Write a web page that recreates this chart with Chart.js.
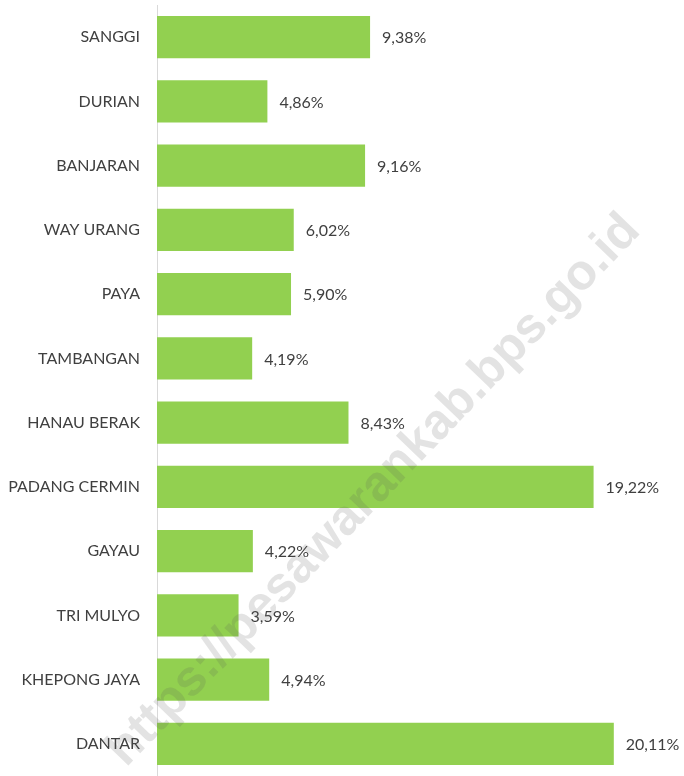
<!DOCTYPE html>
<html>
<head>
<meta charset="utf-8">
<script src="https://cdn.jsdelivr.net/npm/chart.js@4/dist/chart.umd.min.js"></script>
<style>
  html, body { margin: 0; padding: 0; background: #fff; overflow: hidden; }
</style>
</head>
<body>
<canvas id="c" width="684" height="776"></canvas>
<script>
// data
const desa = ['SANGGI', 'DURIAN', 'BANJARAN', 'WAY URANG', 'PAYA', 'TAMBANGAN',
  'HANAU BERAK', 'PADANG CERMIN', 'GAYAU', 'TRI MULYO', 'KHEPONG JAYA', 'DANTAR'];
const persen = [9.38, 4.86, 9.16, 6.02, 5.90, 4.19, 8.43, 19.22, 4.22, 3.59, 4.94, 20.11];
const watermark = 'https://pesawarankab.bps.go.id';

const fontFamily = "Lato, 'Open Sans', sans-serif";
const fontSize = 16;
const textColor = '#404040';

// ── value labels at the end of each bar ──
const valueLabels = {
  id: 'valueLabels',
  afterDatasetsDraw(chart) {
    const { ctx } = chart;
    const meta = chart.getDatasetMeta(0);
    ctx.save();
    ctx.font = `${fontSize}px ${fontFamily}`;
    ctx.fillStyle = textColor;
    ctx.textAlign = 'left';
    ctx.textBaseline = 'middle';
    meta.data.forEach((bar, i) => {
      const txt = persen[i].toFixed(2).replace('.', ',') + '%';
      ctx.fillText(txt, bar.x + 12, bar.y + 1);
    });
    ctx.restore();
  }
};

// ── diagonal watermark over the plot ──
const watermarkPlugin = {
  id: 'watermark',
  afterDraw(chart) {
    const { ctx } = chart;
    const x0 = 126, y0 = 768, x1 = 642, y1 = 232;
    const len = Math.hypot(x1 - x0, y1 - y0);
    ctx.save();
    ctx.translate(x0, y0);
    ctx.rotate(Math.atan2(y1 - y0, x1 - x0));
    let size = 40;
    ctx.font = `bold ${size}px 'Liberation Sans', Arial, sans-serif`;
    size = size * len / ctx.measureText(watermark).width;
    ctx.font = `bold ${size}px 'Liberation Sans', Arial, sans-serif`;
    ctx.fillStyle = 'rgba(90,90,90,0.17)';
    ctx.fillText(watermark, 0, 0);
    ctx.restore();
  }
};

new Chart(document.getElementById('c'), {
  type: 'bar',
  data: {
    labels: desa,
    datasets: [{
      data: persen,
      backgroundColor: '#92D050',
      borderWidth: 0,
      categoryPercentage: 1,
      barPercentage: 0.655
    }]
  },
  options: {
    indexAxis: 'y',
    responsive: false,
    animation: false,
    layout: { padding: { top: 5, bottom: 0, left: 0, right: 0 } },
    plugins: { legend: { display: false }, tooltip: { enabled: false } },
    scales: {
      x: { display: false, min: 0, max: 23.2 },
      y: {
        // fixed axis width so the bars start where the reference has them
        afterFit(scale) { scale.width = 157; scale.paddingTop = 0; scale.paddingBottom = 0; },
        grid: { display: false, drawTicks: false },
        border: { display: true, color: '#d9d9d9', width: 1 },
        ticks: { color: textColor, font: { size: fontSize, family: fontFamily }, padding: 17 }
      }
    }
  },
  plugins: [valueLabels, watermarkPlugin]
});
</script>
</body>
</html>
